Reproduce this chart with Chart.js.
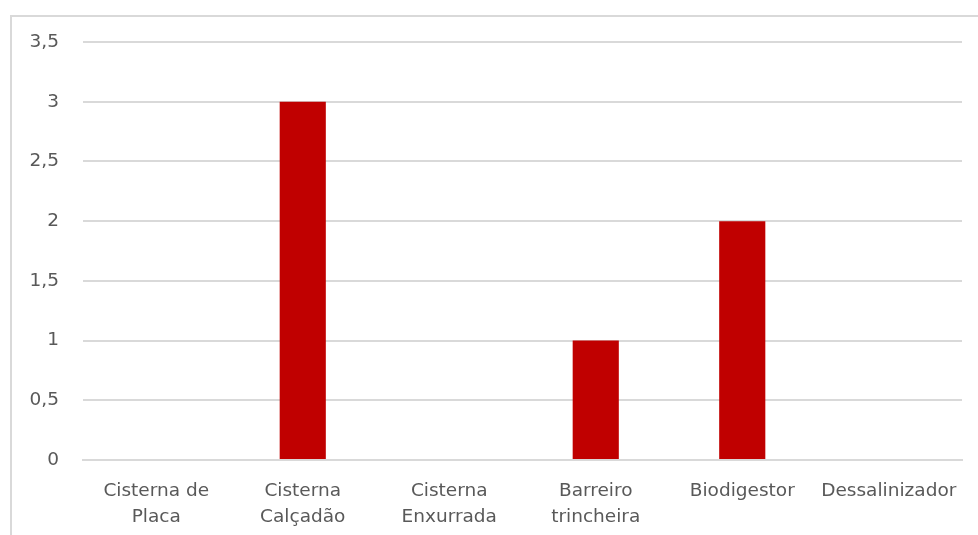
<!DOCTYPE html>
<html>
<head>
<meta charset="utf-8">
<script src="https://cdn.jsdelivr.net/npm/chart.js@4/dist/chart.umd.min.js"></script>
<style>
  html, body { margin: 0; padding: 0; background: #fff; overflow: hidden; }
  #frame {
    position: absolute; left: 10px; top: 15px;
    width: 1000px; height: 600px;
    border: 2px solid #d9d9d9; box-sizing: border-box;
  }
  #wrap { position: absolute; left: 0; top: 0; width: 978px; height: 535px; }
</style>
</head>
<body>
<div id="frame"></div>
<div id="wrap"><canvas id="techChart"></canvas></div>
<script>
// water / energy technologies and how many of each
const categories = [
  ["Cisterna de", "Placa"],
  ["Cisterna", "Calçadão"],
  ["Cisterna", "Enxurrada"],
  ["Barreiro", "trincheira"],
  "Biodigestor",
  "Dessalinizador"
];
const counts = [0, 3, 0, 1, 2, 0];
const yTicks = [0, 0.5, 1, 1.5, 2, 2.5, 3, 3.5];

const labelFont = { family: "'DejaVu Sans', sans-serif", size: 18.5, lineHeight: 1.43 };
const textColor = "#595959";

const ctx = document.getElementById("techChart").getContext("2d");
new Chart(ctx, {
  type: "bar",
  data: {
    labels: categories,
    datasets: [
      {
        data: counts,
        backgroundColor: "#c00000",
        barPercentage: 0.63,
        categoryPercentage: 0.5
      }
    ]
  },
  options: {
    responsive: true,
    maintainAspectRatio: false,
    animation: false,
    layout: { padding: { top: 42, right: 16, left: 0, bottom: 0 } },
    plugins: { legend: { display: false }, tooltip: { enabled: false } },
    scales: {
      x: {
        grid: { display: false, drawTicks: false },
        border: { color: "#d9d9d9", width: 2 },
        ticks: { color: textColor, font: labelFont, padding: 18, maxRotation: 0, autoSkip: false },
        afterFit: (scale) => { scale.height = 75; }
      },
      y: {
        min: 0,
        max: 3.5,
        afterBuildTicks: (scale) => {
          scale.ticks = yTicks.map((v) => ({ value: v }));
        },
        grid: { color: "#d9d9d9", lineWidth: 2, drawTicks: false },
        border: { display: false },
        ticks: {
          color: textColor,
          font: labelFont,
          padding: 24,
          callback: (v) => String(v).replace(".", ",")
        },
        afterFit: (scale) => { scale.width = 83; }
      }
    }
  }
});
</script>
</body>
</html>
